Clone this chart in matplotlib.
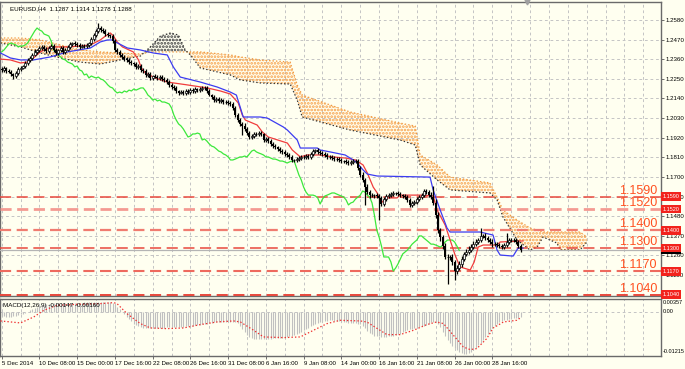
"""
Gráfico EURUSD H4 com Ichimoku, níveis horizontais e MACD (estilo MetaTrader).
"""

import numpy as np
import matplotlib
matplotlib.use("Agg")
import matplotlib.pyplot as plt
import matplotlib.transforms as mtrans

FUNDO = "#fffff0"
FONTE = "Liberation Sans"

# --- preços (fechamento por barra H4) ---
abertura0 = 1.2305
fechamentos = [
    1.2300, 1.2311, 1.2294, 1.2288, 1.2277, 1.2266, 1.2283, 1.2305, 1.2311, 1.2322,
    1.2339, 1.2356, 1.2367, 1.2384, 1.2401, 1.2412, 1.2423, 1.2429, 1.2417, 1.2406,
    1.2423, 1.2434, 1.2412, 1.2395, 1.2412, 1.2423,
    1.2401, 1.2412, 1.2429, 1.2445, 1.2451, 1.2445, 1.2440, 1.2429, 1.2434, 1.2434,
    1.2440, 1.2451, 1.2473, 1.2496, 1.2518, 1.2535, 1.2524, 1.2518, 1.2501, 1.2496,
    1.2490, 1.2462, 1.2412, 1.2401, 1.2384, 1.2373, 1.2361, 1.2356, 1.2344, 1.2339,
    1.2333, 1.2317, 1.2322, 1.2300, 1.2294, 1.2272, 1.2277, 1.2255, 1.2266, 1.2260,
    1.2255, 1.2260, 1.2249, 1.2244, 1.2232, 1.2216, 1.2204, 1.2199, 1.2182, 1.2171,
    1.2176, 1.2171, 1.2182, 1.2176, 1.2187, 1.2182, 1.2193, 1.2187, 1.2193, 1.2199,
    1.2199, 1.2182, 1.2159, 1.2148, 1.2131, 1.2137, 1.2126, 1.2131, 1.2120, 1.2120,
    1.2115, 1.2109, 1.2087, 1.2047, 1.2019, 1.1997, 1.1986, 1.1969, 1.1946, 1.1924,
    1.1929, 1.1941, 1.1941, 1.1946, 1.1941, 1.1907, 1.1913, 1.1901, 1.1885, 1.1873,
    1.1868, 1.1857, 1.1845, 1.1840, 1.1829, 1.1823, 1.1812, 1.1795, 1.1795, 1.1800,
    1.1806, 1.1812, 1.1812, 1.1817, 1.1812, 1.1829, 1.1845, 1.1851, 1.1840, 1.1834,
    1.1829, 1.1823, 1.1812, 1.1812, 1.1806, 1.1800, 1.1800, 1.1795, 1.1789, 1.1789,
    1.1784, 1.1778, 1.1784, 1.1789, 1.1789, 1.1750, 1.1711, 1.1683, 1.1643, 1.1615,
    1.1598, 1.1598, 1.1598, 1.1593, 1.1582, 1.1548, 1.1576, 1.1593, 1.1598, 1.1604,
    1.1610, 1.1610, 1.1604, 1.1598, 1.1593, 1.1587, 1.1571, 1.1543, 1.1554, 1.1559,
    1.1576, 1.1587, 1.1598, 1.1621, 1.1615, 1.1598, 1.1587, 1.1554, 1.1486, 1.1402,
    1.1363, 1.1312, 1.1251, 1.1251, 1.1251, 1.1223, 1.1172, 1.1189, 1.1212, 1.1240,
    1.1268, 1.1279, 1.1290, 1.1306, 1.1323, 1.1335, 1.1346, 1.1369, 1.1369, 1.1357,
    1.1346, 1.1335, 1.1323, 1.1323, 1.1318, 1.1312, 1.1306, 1.1318, 1.1335, 1.1346,
    1.1346, 1.1346, 1.1335, 1.1312, 1.1288,
]
# pavios (pips) acima e abaixo do corpo
pavio_cima = [
    10, 12, 8, 9, 11, 7, 10, 13, 9, 8, 12, 10, 9, 11, 14, 8, 10, 12, 9, 10,
    11, 9, 12, 10, 8, 14, 9, 11, 10, 12, 8, 10, 13, 9, 11, 10, 12, 8, 10, 9,
    12, 30, 10, 12, 9, 11, 8, 10, 12, 9, 8, 11, 10, 9, 12, 10, 8, 11, 9, 10,
    12, 9, 10, 11, 8, 12, 10, 9, 11, 10, 8, 12, 9, 10, 11, 8, 10, 12, 9, 11,
    10, 9, 12, 8, 11, 10, 9, 12, 10, 8, 11, 9, 10, 12, 8, 10, 11, 9, 12, 10,
    14, 12, 10, 15, 9, 11, 12, 10, 9, 11, 12, 8, 10, 11, 9, 12, 10, 8, 11, 10,
    9, 12, 10, 11, 8, 10, 12, 9, 11, 10, 12, 9, 10, 8, 11, 12, 9, 10, 11, 9,
    10, 12, 9, 11, 10, 8, 12, 10, 9, 11, 10, 12, 9, 14, 12, 16, 10, 12, 9, 11,
    14, 10, 12, 9, 11, 10, 12, 8, 10, 11, 9, 12, 10, 11, 9, 10, 12, 9, 11, 14,
    12, 10, 15, 60, 20, 18, 14, 12, 16, 15, 10, 14, 12, 18, 15, 14, 12, 16, 20, 15,
    18, 16, 14, 45, 12, 14, 10, 12, 15, 11, 12, 10, 14, 12, 50, 12, 10, 14, 11, 12, 10,
]
pavio_baixo = [
    9, 11, 10, 8, 12, 15, 9, 10, 11, 8, 10, 9, 12, 10, 8, 11, 9, 10, 12, 9,
    10, 8, 11, 9, 12, 10, 9, 11, 8, 10, 12, 9, 10, 11, 8, 10, 12, 9, 11, 10,
    9, 11, 10, 12, 8, 10, 11, 9, 12, 14, 10, 12, 11, 9, 10, 12, 11, 9, 10, 12,
    10, 11, 9, 12, 10, 8, 11, 10, 12, 9, 10, 11, 9, 12, 10, 11, 8, 10, 12, 9,
    11, 10, 9, 12, 10, 11, 9, 10, 8, 12, 10, 9, 11, 10, 12, 9, 10, 11, 9, 10,
    12, 14, 50, 11, 10, 12, 9, 11, 10, 12, 9, 10, 11, 8, 12, 10, 9, 11, 10, 12,
    10, 9, 11, 12, 10, 9, 12, 10, 11, 9, 10, 12, 11, 9, 10, 12, 11, 10, 9, 12,
    11, 10, 12, 9, 10, 11, 12, 10, 9, 11, 12, 10, 11, 14, 100, 12, 14, 11, 15, 10,
    124, 12, 10, 11, 14, 10, 12, 11, 10, 12, 11, 9, 12, 10, 11, 9, 12, 10, 11, 10,
    12, 11, 10, 14, 16, 18, 20, 15, 14, 150, 18, 16, 50, 14, 12, 15, 14, 12, 10, 11,
    12, 11, 10, 12, 10, 11, 9, 12, 14, 10, 11, 12, 10, 11, 12, 10, 11, 9, 12, 10, 11,
]

# --- Ichimoku: tenkan (vermelho) e kijun (azul), lidos em pontos ---
tenkan_x = [-0.5, 3.7, 8.0, 10.9, 13.5, 16.4, 20.7, 27.9, 33.4, 37.6, 41.8, 44.0, 46.1,
            47.4, 49.0, 51.2, 55.8, 58.0, 59.2, 60.9, 65.1, 70.2, 78.7, 87.2, 92.7,
            96.9, 100.3, 102.0, 103.3, 108.3, 110.5, 113.0, 121.1, 123.2, 126.6,
            129.5, 135.0, 140.5, 145.6, 149.9, 153.2, 155.0, 157.5, 159.2, 160.9,
            163.0, 167.6, 168.9, 177.4, 182.9, 184.6, 188.0, 190.1, 192.2, 194.3,
            198.6, 200.3, 202.0, 204.1, 210.0, 211.3, 221.0]
tenkan_y = [1.2361, 1.2356, 1.2339, 1.2344, 1.2367, 1.2401, 1.2429, 1.2429, 1.2434,
            1.2440, 1.2468, 1.2490, 1.2507, 1.2490, 1.2457, 1.2429, 1.2401, 1.2356,
            1.2311, 1.2283, 1.2255, 1.2232, 1.2216, 1.2199, 1.2182, 1.2165, 1.2115,
            1.2047, 1.2019, 1.1991, 1.1952, 1.1924, 1.1890, 1.1851, 1.1812, 1.1823,
            1.1823, 1.1812, 1.1806, 1.1795, 1.1767, 1.1722, 1.1643, 1.1610, 1.1554,
            1.1582, 1.1582, 1.1598, 1.1598, 1.1593, 1.1514, 1.1430, 1.1346, 1.1262,
            1.1195, 1.1178, 1.1223, 1.1307, 1.1318, 1.1318, 1.1335, 1.1341]
kijun_x = [-0.5, 3.7, 8.0, 13.5, 20.7, 27.9, 37.6, 41.8, 44.8, 47.4, 48.2, 53.3, 58.8,
           64.3, 70.2, 72.8, 75.7, 84.2, 91.4, 96.9, 99.5, 101.1, 102.4, 109.6, 112.6,
           119.4, 121.1, 125.3, 126.6, 133.8, 135.0, 139.3, 145.6, 149.0, 150.7,
           153.2, 155.0, 159.2, 181.6, 182.9, 185.9, 188.8, 190.1, 202.8, 208.3,
           210.0, 211.3, 216.8, 218.9, 221.0]
kijun_y = [1.2395, 1.2367, 1.2356, 1.2356, 1.2373, 1.2401, 1.2423, 1.2457, 1.2468,
           1.2468, 1.2457, 1.2423, 1.2412, 1.2395, 1.2384, 1.2316, 1.2260, 1.2232,
           1.2204, 1.2176, 1.2159, 1.2092, 1.2036, 1.2036, 1.2030, 1.1980, 1.1963,
           1.1907, 1.1862, 1.1862, 1.1851, 1.1840, 1.1823, 1.1795, 1.1778, 1.1739,
           1.1716, 1.1705, 1.1699, 1.1627, 1.1514, 1.1413, 1.1391, 1.1391, 1.1374,
           1.1290, 1.1262, 1.1256, 1.1301, 1.1301]

# --- nuvem (senkou A laranja, senkou B escura) ---
nuvem_x = [-0.5, 8.0, 16.4, 24.9, 33.4, 41.8, 50.3, 58.8, 63.0, 67.3, 71.5, 74.9,
           77.8, 80.0, 84.2, 96.9, 101.1, 109.6, 122.3, 125.3, 127.4, 147.7, 168.9,
           175.3, 177.4, 184.6, 190.1, 207.0, 210.0, 212.5, 218.5, 224.0, 227.0,
           229.5, 235.4, 236.7, 245.1, 248.1]
senkou_a = [1.2479, 1.2479, 1.2468, 1.2440, 1.2412, 1.2401, 1.2395, 1.2389, 1.2401,
            1.2401, 1.2401, 1.2401, 1.2401, 1.2401, 1.2401, 1.2384, 1.2373, 1.2356,
            1.2344, 1.2215, 1.2159, 1.2064, 1.2002, 1.1985, 1.1823, 1.1767, 1.1699,
            1.1666, 1.1587, 1.1514, 1.1458, 1.1413, 1.1402, 1.1391, 1.1391, 1.1391,
            1.1391, 1.1363]
senkou_b = [1.2451, 1.2429, 1.2395, 1.2367, 1.2344, 1.2333, 1.2356, 1.2378, 1.2429,
            1.2490, 1.2507, 1.2496, 1.2412, 1.2384, 1.2311, 1.2272, 1.2244, 1.2227,
            1.2221, 1.2131, 1.2036, 1.1963, 1.1907, 1.1879, 1.1767, 1.1683, 1.1627,
            1.1610, 1.1571, 1.1475, 1.1346, 1.1290, 1.1307, 1.1363, 1.1329, 1.1290,
            1.1290, 1.1335]

# --- MACD (12,26,9): histograma em 1e-5 e linha de sinal em pontos ---
macd_hist = [
    -120, -125, -130, -135, -130, -125, -110, -90, -70, -45,
    -20, 10, 40, 70, 100, 130, 155, 175, 195, 210,
    220, 230, 235, 238, 240, 245, 248, 250, 250, 252,
    253, 255, 256, 258, 260, 262, 265, 268, 270, 272,
    275, 278, 280, 280, 278, 275, 270, 250, 210, 150,
    80, 10, -60, -130, -200, -260, -320, -370, -400, -420,
    -430, -440, -445, -450, -450, -448, -445, -440, -435, -430,
    -425, -420, -420, -418, -415, -412, -410, -405, -400, -395,
    -390, -380, -370, -360, -350, -340, -330, -320, -310, -300,
    -290, -285, -280, -275, -270, -270, -265, -265, -270, -280,
    -300, -380, -480, -560, -630, -680, -720, -740, -750, -755,
    -755, -750, -745, -740, -735, -730, -725, -720, -715, -710,
    -700, -690, -675, -655, -630, -600, -570, -540, -505, -470,
    -435, -400, -370, -340, -310, -285, -265, -250, -240, -235,
    -235, -240, -250, -260, -270, -280, -290, -300, -305, -310,
    -315, -320, -330, -380, -450, -520, -580, -620, -650, -665,
    -675, -680, -680, -678, -672, -665, -655, -640, -620, -600,
    -560, -530, -500, -480, -460, -445, -430, -415, -400, -380,
    -350, -320, -290, -275, -280, -320, -420, -540, -660, -760,
    -850, -930, -1000, -1060, -1100, -1130, -1150, -1150, -1130, -1100,
    -1050, -990, -920, -850, -780, -700, -610, -520, -440, -380,
    -330, -290, -260, -235, -215, -200, -185, -175, -165, -155, -147,
]
sinal_x = [-0.5, 8, 13.6, 17.9, 23.5, 32, 41.9, 47.5, 48.9, 53.1, 58.8, 63, 70.1,
           77.1, 84.2, 91.3, 98.3, 101.2, 106.8, 111, 119.5, 126.6, 132.2, 137.9,
           143.5, 152, 154.8, 160.4, 163.3, 168.9, 174.6, 180.2, 184.4, 187.3,
           191.5, 195.7, 198.6, 201.4, 205.6, 208.4, 212.7, 218.3, 220]
sinal_y = [-248, -303, -138, 46, 184, 211, 230, 257, 230, -46, -322, -441, -460,
           -441, -349, -276, -248, -276, -505, -689, -708, -689, -505, -322, -230,
           -248, -276, -505, -625, -625, -505, -349, -276, -322, -643, -965,
           -1038, -1011, -735, -441, -276, -230, -160]

# --- níveis horizontais ---
niveis = [1.1590, 1.1520, 1.1400, 1.1300, 1.1170, 1.1040]
niveis_cor = ["#e8483c", "#f49a92", "#f07c70", "#e8483c", "#ee6a5e", "#e8483c"]
niveis_lw = [1.1, 2.0, 1.6, 1.1, 1.5, 1.4]
preco_bid = 1.1288

# --- eixo de tempo ---
datas_pos = [0, 16, 32, 48, 64, 80, 96, 112, 128, 144, 160, 176, 192, 208]
datas_txt = ["5 Dec 2014", "10 Dec 08:00", "15 Dec 00:00", "17 Dec 16:00",
             "22 Dec 08:00", "26 Dec 16:00", "31 Dec 08:00", "6 Jan 16:00",
             "9 Jan 08:00", "14 Jan 00:00", "16 Jan 16:00", "21 Jan 08:00",
             "26 Jan 00:00", "28 Jan 16:00"]
precos_eixo = [1.2580, 1.2470, 1.2360, 1.2250, 1.2140, 1.2030, 1.1920, 1.1810,
               1.1700, 1.1590, 1.1480, 1.1370, 1.1260, 1.1150]

plt.rcParams["lines.scale_dashes"] = False
plt.rcParams["hatch.linewidth"] = 1.3

fig = plt.figure(figsize=(6.85, 3.69), dpi=100, facecolor=FUNDO)
ax = fig.add_axes([0.0007, 0.1978, 0.9643, 0.7968], facecolor=FUNDO)
axm = fig.add_axes([0.0007, 0.0352, 0.9643, 0.1545], facecolor=FUNDO)

XMIN, XMAX = -0.5, 279.5
GRADE = dict(color="#c4c4c4", lw=0.7, ls=(0, (2, 2)), zorder=0)

for a in (ax, axm):
    a.set_xlim(XMIN, XMAX)
    for b in range(0, 280, 8):
        a.axvline(b, **GRADE)
    for s in a.spines.values():
        s.set_color("#6a6a6a")
        s.set_linewidth(1.0)
    a.tick_params(axis="y", which="both", right=True, left=False, labelright=True,
                  labelleft=False, length=2, width=0.6, color="#555555",
                  labelsize=4.4, pad=1.2)

# --- painel principal ---
ax.set_ylim(1.10321, 1.26810)
ax.set_yticks(precos_eixo)
ax.set_yticklabels([f"{p:.4f}" for p in precos_eixo], fontfamily=FONTE)
for p in precos_eixo:
    ax.axhline(p, **GRADE)
ax.set_xticks([])

# nuvem
xa = np.array(nuvem_x)
sa = np.array(senkou_a)
sb = np.array(senkou_b)
ax.fill_between(xa, sa, sb, where=sa >= sb, interpolate=True, facecolor="none",
                edgecolor="#f7a048", hatch=".....", linewidth=0, zorder=1)
ax.fill_between(xa, sa, sb, where=sa < sb, interpolate=True, facecolor="none",
                edgecolor="#3c3c3c", hatch=".....", linewidth=0, zorder=1)
ax.plot(xa, sa, color="#f29a40", lw=0.9, ls=(0, (1, 1.5)), zorder=2)
ax.plot(xa, sb, color="#333333", lw=0.9, ls=(0, (1, 1.5)), zorder=2)

# níveis
for nv, cor, lw in zip(niveis, niveis_cor, niveis_lw):
    ax.axhline(nv, color=cor, lw=lw, ls=(0, (8, 4)), zorder=3)
    ax.text(277.8, nv + 0.0017, f"{nv:.4f}", ha="right", va="baseline",
            color="#ff5020", fontsize=9, fontfamily=FONTE, zorder=6)
ax.axhline(preco_bid, color="#b4b4b4", lw=0.9, zorder=3)

# linhas ichimoku
c = np.array(fechamentos)
n = len(c)
xb = np.arange(n)
ax.plot(xb[:n - 26], c[26:], color="#3ce83c", lw=0.9, zorder=3)
ax.plot(tenkan_x, tenkan_y, color="#f03c3c", lw=0.9, zorder=3)
ax.plot(kijun_x, kijun_y, color="#3c3cf0", lw=0.9, zorder=3)

# candles
o = np.r_[abertura0, c[:-1]]
hi = np.maximum(o, c) + np.array(pavio_cima) / 1e4
lo = np.minimum(o, c) - np.array(pavio_baixo) / 1e4
ax.vlines(xb, lo, hi, color="black", lw=0.9, zorder=4)
alta = c >= o
ax.bar(xb[alta], (c - o)[alta], bottom=o[alta], width=0.85, color="#f4f4f4",
       edgecolor="black", linewidth=0.5, zorder=5)
ax.bar(xb[~alta], (o - c)[~alta], bottom=c[~alta], width=0.85, color="black",
       linewidth=0, zorder=5)

# etiquetas no eixo de preço
mistura = mtrans.blended_transform_factory(ax.transAxes, ax.transData)
ax.text(1.002, preco_bid, f"{preco_bid:.4f}", transform=mistura, ha="left",
        va="center", fontsize=4.0, color="white", fontfamily=FONTE, zorder=7,
        bbox=dict(boxstyle="square,pad=0.25", fc="black", ec="none"), clip_on=False)
for nv in niveis:
    ax.text(1.002, nv, f"{nv:.4f}", transform=mistura, ha="left", va="center",
            fontsize=4.0, color="white", fontfamily=FONTE, zorder=8,
            bbox=dict(boxstyle="square,pad=0.3", fc="#f2231c", ec="none"),
            clip_on=False)

ax.text(0.014, 0.985, "EURUSD,H4  1.1287 1.1314 1.1278 1.1288", transform=ax.transAxes,
        ha="left", va="top", fontsize=4.5, fontfamily=FONTE, color="black")
ax.plot([222.7], [1.2679], marker="v", ms=3.5, color="#a0a0a0", clip_on=False,
        zorder=7)

# --- painel MACD ---
axm.set_ylim(-0.01215, 0.00357)
axm.axhline(0.0, **GRADE)
h = np.array(macd_hist) / 1e5
axm.vlines(xb, 0, h, color="#c0c0c0", lw=0.8, zorder=2)
axm.plot(sinal_x, np.array(sinal_y) / 1e5, color="#f03030", lw=0.9,
         ls=(0, (1, 1.5)), zorder=3)
axm.set_yticks([])
mistura_m = mtrans.blended_transform_factory(axm.transAxes, axm.transData)
for val, txt in [(0.0025, "0.00357"), (0.0, "0.00"), (-0.0108, "-0.01215")]:
    axm.text(1.002, val, txt, transform=mistura_m, ha="left", va="center",
             fontsize=4.0, fontfamily=FONTE, clip_on=False)
axm.text(0.004, 0.93, "MACD(12,26,9) -0.00147 -0.00160", transform=axm.transAxes,
         ha="left", va="top", fontsize=4.5, fontfamily=FONTE)

axm.set_xticks(datas_pos)
axm.set_xticklabels(datas_txt, ha="left", fontsize=4.4, fontfamily=FONTE)
axm.tick_params(axis="x", length=2, width=0.6, pad=1.5, color="#555555")

fig.savefig("out.png", dpi=100, facecolor=FUNDO)
plt.close(fig)
